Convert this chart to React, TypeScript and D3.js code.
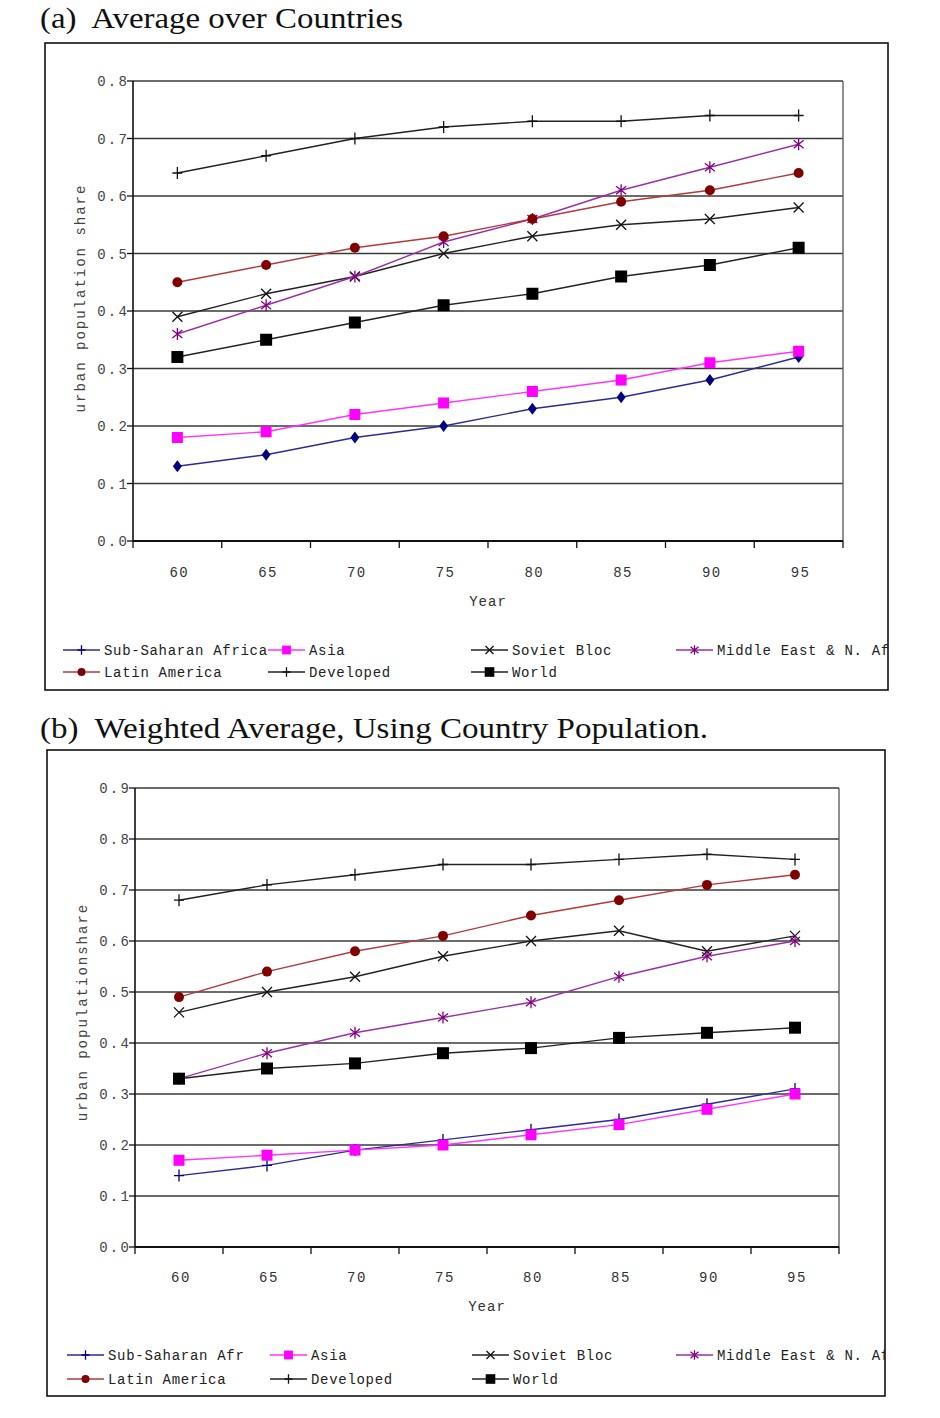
import { useEffect, useRef } from 'react';
import * as d3 from 'd3';

// categories
const years = ['60', '65', '70', '75', '80', '85', '90', '95'];

const legendNamesA = ['Sub-Saharan Africa', 'Asia', 'Soviet Bloc', 'Middle East & N. Africa', 'Latin America', 'Developed', 'World'];
const legendNamesB = ['Sub-Saharan Afr', 'Asia', 'Soviet Bloc', 'Middle East & N. Africa', 'Latin America', 'Developed', 'World'];

// (a) average over countries
const ssaA = [0.13, 0.15, 0.18, 0.2, 0.23, 0.25, 0.28, 0.32];
const asiaA = [0.18, 0.19, 0.22, 0.24, 0.26, 0.28, 0.31, 0.33];
const sovietA = [0.39, 0.43, 0.46, 0.5, 0.53, 0.55, 0.56, 0.58];
const meA = [0.36, 0.41, 0.46, 0.52, 0.56, 0.61, 0.65, 0.69];
const latinA = [0.45, 0.48, 0.51, 0.53, 0.56, 0.59, 0.61, 0.64];
const developedA = [0.64, 0.67, 0.7, 0.72, 0.73, 0.73, 0.74, 0.74];
const worldA = [0.32, 0.35, 0.38, 0.41, 0.43, 0.46, 0.48, 0.51];

// (b) weighted by country population
const ssaB = [0.14, 0.16, 0.19, 0.21, 0.23, 0.25, 0.28, 0.31];
const asiaB = [0.17, 0.18, 0.19, 0.2, 0.22, 0.24, 0.27, 0.3];
const sovietB = [0.46, 0.5, 0.53, 0.57, 0.6, 0.62, 0.58, 0.61];
const meB = [0.33, 0.38, 0.42, 0.45, 0.48, 0.53, 0.57, 0.6];
const latinB = [0.49, 0.54, 0.58, 0.61, 0.65, 0.68, 0.71, 0.73];
const developedB = [0.68, 0.71, 0.73, 0.75, 0.75, 0.76, 0.77, 0.76];
const worldB = [0.33, 0.35, 0.36, 0.38, 0.39, 0.41, 0.42, 0.43];

const yTicksA = [0, 0.1, 0.2, 0.3, 0.4, 0.5, 0.6, 0.7, 0.8];
const yTicksB = [0, 0.1, 0.2, 0.3, 0.4, 0.5, 0.6, 0.7, 0.8, 0.9];

type Kind = 'diamond' | 'square' | 'x' | 'star' | 'circle' | 'plus' | 'block';

// per-series look, same order as the legend names
const lineColors = ['#2b2b96', '#ff33ff', '#222', '#9b2fa6', '#b23a3a', '#222', '#222'];
const markColors = ['#000080', '#ff00ff', '#111', '#800080', '#800000', '#111', '#000'];
const kindsA: Kind[] = ['diamond', 'square', 'x', 'star', 'circle', 'plus', 'block'];
const kindsB: Kind[] = ['plus', 'square', 'x', 'star', 'circle', 'plus', 'block'];
const legendKinds: Kind[] = ['plus', 'square', 'x', 'star', 'circle', 'plus', 'block'];

const mono = '"Liberation Mono", "DejaVu Sans Mono", monospace';
const serif = '"Liberation Serif", "DejaVu Serif", serif';

function marker(g: any, kind: Kind, x: number, y: number, color: string, k = 1) {
  if (kind === 'diamond') {
    g.append('path').attr('d', `M${x},${y - 6 * k}L${x + 4.5 * k},${y}L${x},${y + 6 * k}L${x - 4.5 * k},${y}Z`).attr('fill', color);
  } else if (kind === 'square' || kind === 'block') {
    const s = (kind === 'block' ? 6 : 5.5) * k;
    g.append('rect').attr('x', x - s).attr('y', y - s).attr('width', 2 * s).attr('height', 2 * s).attr('fill', color);
  } else if (kind === 'circle') {
    g.append('circle').attr('cx', x).attr('cy', y).attr('r', 5 * k).attr('fill', color);
  } else {
    let d = '';
    if (kind === 'x') d = `M${x - 5 * k},${y - 5 * k}L${x + 5 * k},${y + 5 * k}M${x + 5 * k},${y - 5 * k}L${x - 5 * k},${y + 5 * k}`;
    if (kind === 'star') d = `M${x - 5 * k},${y - 4 * k}L${x + 5 * k},${y + 4 * k}M${x + 5 * k},${y - 4 * k}L${x - 5 * k},${y + 4 * k}M${x},${y - 6 * k}L${x},${y + 6 * k}`;
    if (kind === 'plus') d = `M${x - 5 * k},${y}L${x + 5 * k},${y}M${x},${y - 6 * k}L${x},${y + 6 * k}`;
    g.append('path').attr('d', d).attr('stroke', color).attr('stroke-width', 1.3).attr('fill', 'none');
  }
}

interface PanelOpts {
  id: string;
  title: string;
  titleY: number;
  titleWidth: number;
  box: [number, number, number, number];
  plot: { left: number; right: number; top: number; bottom: number };
  yMax: number;
  yTicks: number[];
  yLabel: string;
  yLabelPos: [number, number];
  xLabelY: number;
  yearY: number;
  values: number[][];
  kinds: Kind[];
  names: string[];
  legendCols: number[];
  legendRows: number[];
}

function drawPanel(svg: any, o: PanelOpts) {
  const [bx0, by0, bx1, by1] = o.box;
  const { left, right, top, bottom } = o.plot;

  svg.append('text')
    .attr('x', 40).attr('y', o.titleY)
    .attr('font-family', serif).attr('font-size', 30)
    .attr('fill', '#111')
    .attr('xml:space', 'preserve')
    .attr('textLength', o.titleWidth)
    .attr('lengthAdjust', 'spacingAndGlyphs')
    .text(o.title);

  svg.append('defs').append('clipPath').attr('id', `clip-${o.id}`)
    .append('rect').attr('x', bx0).attr('y', by0).attr('width', bx1 - bx0).attr('height', by1 - by0);

  svg.append('rect')
    .attr('x', bx0).attr('y', by0).attr('width', bx1 - bx0).attr('height', by1 - by0)
    .attr('fill', 'none').attr('stroke', '#111').attr('stroke-width', 1.6);

  const g = svg.append('g');

  const x = d3.scaleBand<string>().domain(years).range([left, right]).padding(0);
  const cx = (d: string) => (x(d) as number) + x.bandwidth() / 2;
  const y = d3.scaleLinear().domain([0, o.yMax]).range([bottom, top]);

  // horizontal grid
  o.yTicks.forEach(t => {
    if (t === 0) return;
    g.append('line')
      .attr('x1', left).attr('x2', right).attr('y1', y(t)).attr('y2', y(t))
      .attr('stroke', '#3a3a3a').attr('stroke-width', 1.6);
  });
  g.append('line')
    .attr('x1', right).attr('x2', right).attr('y1', top).attr('y2', bottom)
    .attr('stroke', '#555').attr('stroke-width', 1.3);

  // y axis
  g.append('line')
    .attr('x1', left).attr('x2', left).attr('y1', top).attr('y2', bottom)
    .attr('stroke', '#111').attr('stroke-width', 1.6);
  o.yTicks.forEach(t => {
    g.append('line')
      .attr('x1', left - 6).attr('x2', left).attr('y1', y(t)).attr('y2', y(t))
      .attr('stroke', '#111').attr('stroke-width', 1.3);
    g.append('text')
      .attr('x', left - 4).attr('y', y(t) + 5)
      .attr('text-anchor', 'end')
      .attr('font-family', mono).attr('font-size', 14)
      .attr('letter-spacing', 2.2)
      .attr('fill', '#444')
      .text(d3.format('.1f')(t));
  });

  // x axis
  g.append('line')
    .attr('x1', left).attr('x2', right).attr('y1', bottom).attr('y2', bottom)
    .attr('stroke', '#111').attr('stroke-width', 2.2);
  [...years.map(d => x(d) as number), right].forEach(tx => {
    g.append('line')
      .attr('x1', tx).attr('x2', tx).attr('y1', bottom).attr('y2', bottom + 7)
      .attr('stroke', '#111').attr('stroke-width', 1.3);
  });
  years.forEach(d => {
    g.append('text')
      .attr('x', cx(d) + 2).attr('y', o.xLabelY)
      .attr('text-anchor', 'middle')
      .attr('font-family', mono).attr('font-size', 14)
      .attr('letter-spacing', 1.5)
      .attr('fill', '#333')
      .text(d);
  });
  g.append('text')
    .attr('x', (left + right) / 2).attr('y', o.yearY)
    .attr('text-anchor', 'middle')
    .attr('font-family', mono).attr('font-size', 14)
    .attr('letter-spacing', 1)
    .attr('fill', '#333')
    .text('Year');

  g.append('text')
    .attr('transform', `translate(${o.yLabelPos[0]},${o.yLabelPos[1]}) rotate(-90)`)
    .attr('text-anchor', 'middle')
    .attr('font-family', mono).attr('font-size', 14)
    .attr('letter-spacing', 2)
    .attr('fill', '#444')
    .text(o.yLabel);

  // series
  const line = d3.line<number>().x((_, i) => cx(years[i])).y(v => y(v));
  o.values.forEach((vals, s) => {
    g.append('path')
      .attr('d', line(vals))
      .attr('fill', 'none')
      .attr('stroke', lineColors[s])
      .attr('stroke-width', 1.4);
    vals.forEach((v, i) => marker(g, o.kinds[s], cx(years[i]), y(v), markColors[s]));
  });

  // legend
  const lg = svg.append('g').attr('clip-path', `url(#clip-${o.id})`);
  o.names.forEach((name, s) => {
    const row = s < 4 ? 0 : 1;
    const col = s < 4 ? s : s - 4;
    const lx = o.legendCols[col];
    const ly = o.legendRows[row];
    lg.append('line')
      .attr('x1', lx).attr('x2', lx + 37).attr('y1', ly).attr('y2', ly)
      .attr('stroke', lineColors[s]).attr('stroke-width', 1.6);
    marker(lg, legendKinds[s], lx + 18.5, ly, markColors[s], 0.8);
    lg.append('text')
      .attr('x', lx + 41).attr('y', ly + 5)
      .attr('font-family', mono).attr('font-size', 14)
      .attr('letter-spacing', 0.7)
      .attr('fill', '#222')
      .text(name);
  });
}

export default function App() {
  const svgRef = useRef<SVGSVGElement>(null);

  useEffect(() => {
    if (!svgRef.current) return;
    const svg = d3.select(svgRef.current);
    svg.selectAll('*').remove();

    drawPanel(svg, {
      id: 'a',
      title: '(a)  Average over Countries',
      titleY: 28,
      titleWidth: 363,
      box: [45, 43, 888, 690],
      plot: { left: 133, right: 843, top: 81, bottom: 541 },
      yMax: 0.8,
      yTicks: yTicksA,
      yLabel: 'urban population share',
      yLabelPos: [85, 298],
      xLabelY: 577,
      yearY: 606,
      values: [ssaA, asiaA, sovietA, meA, latinA, developedA, worldA],
      kinds: kindsA,
      names: legendNamesA,
      legendCols: [63, 268, 471, 676],
      legendRows: [650, 672],
    });

    drawPanel(svg, {
      id: 'b',
      title: '(b)  Weighted Average, Using Country Population.',
      titleY: 738,
      titleWidth: 668,
      box: [47, 750, 885, 1396],
      plot: { left: 135, right: 839, top: 788, bottom: 1247 },
      yMax: 0.9,
      yTicks: yTicksB,
      yLabel: 'urban populationshare',
      yLabelPos: [87, 1012],
      xLabelY: 1282,
      yearY: 1311,
      values: [ssaB, asiaB, sovietB, meB, latinB, developedB, worldB],
      kinds: kindsB,
      names: legendNamesB,
      legendCols: [67, 270, 472, 676],
      legendRows: [1355, 1379],
    });
  }, []);

  return (
    <svg
      ref={svgRef}
      width={940}
      height={1418}
      style={{ position: 'absolute', left: 0, top: 0, background: '#fff' }}
    />
  );
}
